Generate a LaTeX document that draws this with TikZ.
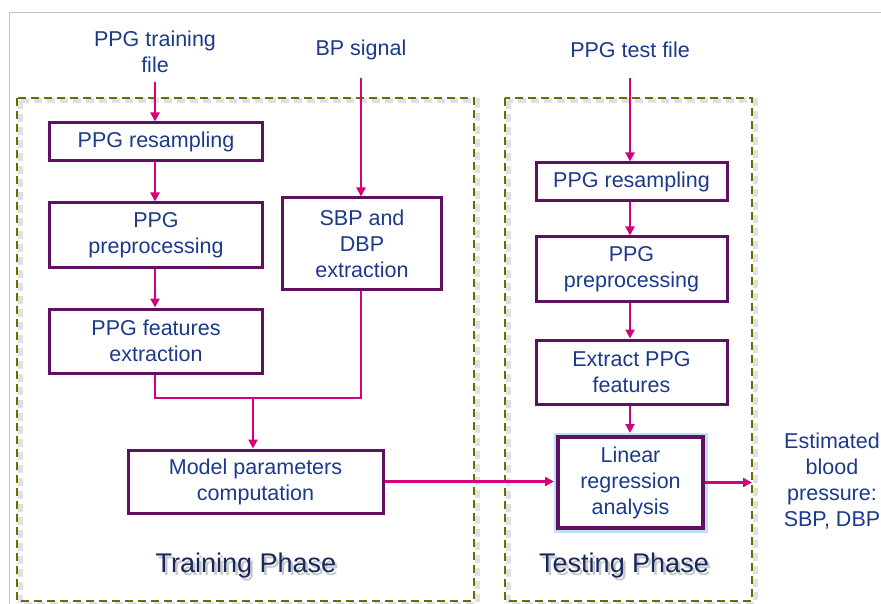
\documentclass[tikz,border=0pt]{standalone}
\usepackage{fontspec}
\setmainfont{Liberation Sans}
\usetikzlibrary{arrows.meta}

\definecolor{txtblue}{RGB}{28,58,138}
\definecolor{phaseblue}{RGB}{22,40,92}
\definecolor{boxpurple}{RGB}{96,16,96}
\definecolor{flowpink}{RGB}{214,0,124}
\definecolor{olivedash}{RGB}{107,107,0}
\definecolor{framegrey}{RGB}{196,196,196}
\definecolor{glowblue}{RGB}{188,224,244}

\tikzset{
  stepbox/.style={draw=boxpurple, line width=3bp, fill=white, inner sep=0pt,
    align=center, text=txtblue, font=\fontsize{21.5bp}{26bp}\selectfont},
  lrbox/.style={stepbox, line width=4bp,
    preaction={fill=white},
    preaction={draw=glowblue, line width=9bp}},
  label/.style={align=center, text=txtblue, inner sep=0pt,
    font=\fontsize{21.5bp}{26bp}\selectfont},
  phase/.style={inner sep=0pt, font=\fontsize{27bp}{32bp}\selectfont},
  arr/.style={draw=flowpink, line width=2.6bp, -{Triangle[length=9bp,width=9bp]}},
  link/.style={draw=flowpink, line width=2.6bp},
  phasebox/.style={draw=olivedash, line width=2.8bp, dash pattern=on 8bp off 5bp},
  phaseshadow/.style={draw=black, opacity=0.12, line width=5bp, dash pattern=on 8bp off 5bp},
}

\begin{document}
\begin{tikzpicture}[x=1bp, y=-1bp]
\useasboundingbox (0,0) rectangle (881,604);
\fill[white] (0,0) rectangle (881,604);

% outer slide frame
\draw[framegrey, line width=1.8bp] (9.5,604) -- (9.5,12.5) -- (881,12.5);

% phase regions with soft shadows
\draw[phaseshadow] (20,101) rectangle (477,604);
\draw[phaseshadow] (508,101) rectangle (755,604);
\draw[phasebox] (17,98) rectangle (474,601);
\draw[phasebox] (505,98) rectangle (752,601);

% inputs
\node[label] (tin) at (155,52) {PPG training\\file};
\node[label] (bpin) at (361,50) {BP signal};
\node[label] (testin) at (630,50) {PPG test file};
\coordinate (tin-out) at (155,82);
\coordinate (bp-out) at (361,78);
\coordinate (test-out) at (630,78);

% training column
\node[stepbox, minimum width=212bp, minimum height=38bp] (r1) at (156,142) {PPG resampling};
\node[stepbox, minimum width=212bp, minimum height=64bp] (p1) at (156,235) {PPG\\preprocessing};
\node[stepbox, minimum width=212bp, minimum height=64bp] (f1) at (156,341) {PPG features\\extraction};
\node[stepbox, minimum width=159bp, minimum height=91bp] (sbp) at (362,243.5) {SBP and\\DBP\\extraction};
\node[stepbox, minimum width=255bp, minimum height=63bp] (model) at (255.5,481.5) {Model parameters\\computation};

% testing column
\node[stepbox, minimum width=191bp, minimum height=38bp] (r2) at (631.5,182) {PPG resampling};
\node[stepbox, minimum width=191bp, minimum height=64bp] (p2) at (631.5,269) {PPG\\preprocessing};
\node[stepbox, minimum width=191bp, minimum height=64bp] (f2) at (631.5,372) {Extract PPG\\features};
\node[lrbox, minimum width=145bp, minimum height=91bp] (lr) at (630.5,482.5) {Linear\\regression\\analysis};

% output
\node[label] (est) at (832,481) {Estimated\\blood\\pressure:\\SBP, DBP};
\coordinate (lr-out) at (752,482.5);

% connectors: training
\draw[arr] (tin-out) -- (tin-out |- r1.north);
\draw[arr] (r1.south -| tin-out) -- (p1.north -| tin-out);
\draw[arr] (p1.south -| tin-out) -- (f1.north -| tin-out);
\draw[arr] (bp-out) -- (bp-out |- sbp.north);
\coordinate (join) at (253,398);
\draw[link] (f1.south -| tin-out) |- (join) -| (sbp.south -| bp-out);
\draw[arr] (join) -- (join |- model.north);

% connectors: testing
\draw[arr] (test-out) -- (test-out |- r2.north);
\draw[arr] (r2.south -| test-out) -- (p2.north -| test-out);
\draw[arr] (p2.south -| test-out) -- (f2.north -| test-out);
\draw[arr] (f2.south -| test-out) -- ([yshift=2bp]lr.north -| test-out);
\draw[arr] (model.east) -- ([xshift=-2bp]model.east -| lr.west);
\draw[arr] (lr.east) -- (lr-out);

% phase titles with drop shadow
\node[phase, text=black, opacity=0.22] (trainshadow) at (248.5,569) {Training Phase};
\node[phase, text=black, opacity=0.22] (testshadow) at (626.5,569) {Testing Phase};
\node[phase, text=phaseblue] (trainlbl) at (246,566) {Training Phase};
\node[phase, text=phaseblue] (testlbl) at (624,566) {Testing Phase};
\end{tikzpicture}
\end{document}
